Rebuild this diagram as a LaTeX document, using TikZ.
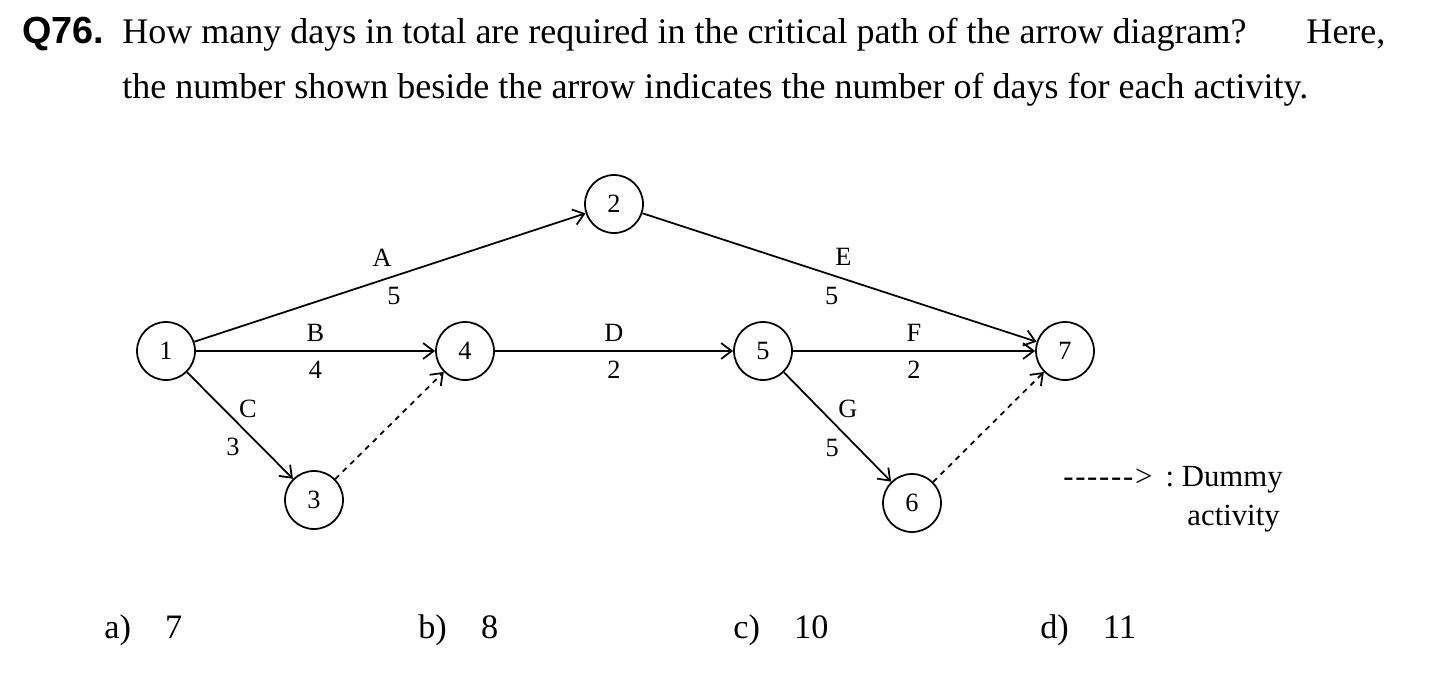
\documentclass[tikz,border=0pt]{standalone}
\usepackage{fontspec}
\setmainfont{Liberation Serif}
\newfontfamily\qfont{Liberation Sans}
\usetikzlibrary{arrows.meta}

\tikzset{
  event/.style={draw, circle, line width=1pt, minimum size=1.16cm, inner sep=0pt, font=\fontsize{15}{17}\selectfont},
  act/.style={-{Straight Barb[length=6pt,width=9pt]}, line width=1pt},
  dummy/.style={act, dashed},
  lbl/.style={font=\fontsize{15}{17}\selectfont, inner sep=0pt},
  txt/.style={anchor=base west, inner sep=0pt, font=\fontsize{20.5}{24}\selectfont},
  ans/.style={anchor=base west, inner sep=0pt, font=\fontsize{19.5}{22}\selectfont},
  leg/.style={inner sep=0pt, font=\fontsize{17.5}{20}\selectfont},
}

\begin{document}
\begin{tikzpicture}[x=0.02cm, y=-0.02cm]
    \useasboundingbox (0,0) rectangle (1450,676);

    % question
    \node[txt, font=\qfont\bfseries\fontsize{21.5}{24}\selectfont] (qnum) at (22,43) {Q76.};
    \node[txt] (line1) at (122,43)
        {\makebox[1263\dimexpr0.02cm\relax][s]{How many days in total are required in the critical path of the arrow diagram?\hfill Here,}};
    \node[txt] (line2) at (122,98)
        {the number shown beside the arrow indicates the number of days for each activity.};

    % events
    \node[event] (e1) at (166,351) {1};
    \node[event] (e2) at (614,204) {2};
    \node[event] (e3) at (314,500) {3};
    \node[event] (e4) at (465,351) {4};
    \node[event] (e5) at (763,351) {5};
    \node[event] (e6) at (912,503) {6};
    \node[event] (e7) at (1065,351) {7};

    % activities
    \draw[act] (e1) -- node[lbl, pos=.48, yshift=12.5pt] {A} node[lbl, pos=.51, yshift=-11.5pt] {5} (e2);
    \draw[act] (e1) -- node[lbl, yshift=10.5pt] {B} node[lbl, yshift=-10.5pt] {4} (e4);
    \draw[act] (e1) -- node[lbl, pos=.45, xshift=7.5pt, yshift=6.5pt] {C} node[lbl, pos=.45, xshift=-1pt, yshift=-15pt] {3} (e3);
    \draw[act] (e4) -- node[lbl, yshift=10.5pt] {D} node[lbl, yshift=-10.5pt] {2} (e5);
    \draw[act] (e2) -- node[lbl, pos=.51, yshift=12.5pt] {E} node[lbl, pos=.48, yshift=-12pt] {5} (e7);
    \draw[act] (e5) -- node[lbl, yshift=10.5pt] {F} node[lbl, yshift=-10.5pt] {2} (e7);
    \draw[act] (e5) -- node[lbl, pos=.45, xshift=9pt, yshift=7pt] {G} node[lbl, pos=.45, yshift=-15pt] {5} (e6);
    \draw[dummy] (e3) -- (e4);
    \draw[dummy] (e6) -- (e7);

    % legend
    \node[leg, anchor=base west] (legkey) at (1063,486) {\makebox[1.78cm][s]{-\hfil-\hfil-\hfil-\hfil-\hfil-\hfil>}};
    \node[leg, anchor=base east] (legtop) at (1283,486) {:\ Dummy};
    \node[leg, anchor=base east] (legbot) at (1280,525) {activity};

    % answers
    \node[ans] (ansa) at (104,638) {a)\quad 7};
    \node[ans] (ansb) at (418,638) {b)\quad 8};
    \node[ans] (ansc) at (733,638) {c)\quad 10};
    \node[ans] (ansd) at (1040,638) {d)\quad 11};
\end{tikzpicture}
\end{document}
